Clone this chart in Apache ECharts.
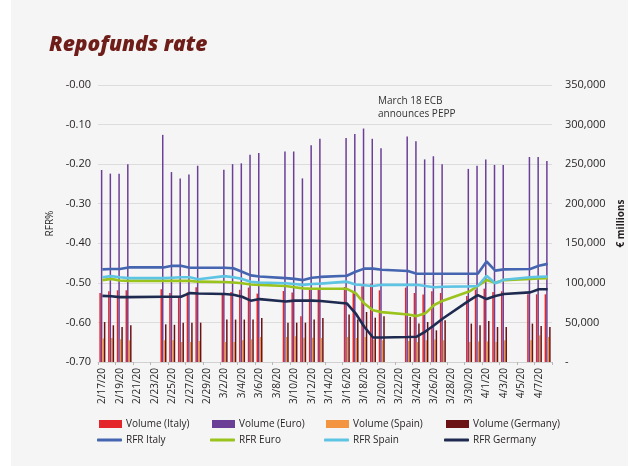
<!DOCTYPE html>
<html>
<head>
<meta charset="utf-8">
<script src="https://cdn.jsdelivr.net/npm/echarts@6/dist/echarts.min.js"></script>
<style>
html,body{margin:0;padding:0;background:#ffffff;}
#chart{width:639px;height:466px;}
</style>
</head>
<body>
<div id="chart"></div>
<script>
// ---- DATA ----
const dates = ["2/17/20","2/18/20","2/19/20","2/20/20","2/21/20","2/22/20","2/23/20","2/24/20","2/25/20","2/26/20","2/27/20","2/28/20","2/29/20","3/1/20","3/2/20","3/3/20","3/4/20","3/5/20","3/6/20","3/7/20","3/8/20","3/9/20","3/10/20","3/11/20","3/12/20","3/13/20","3/14/20","3/15/20","3/16/20","3/17/20","3/18/20","3/19/20","3/20/20","3/21/20","3/22/20","3/23/20","3/24/20","3/25/20","3/26/20","3/27/20","3/28/20","3/29/20","3/30/20","3/31/20","4/1/20","4/2/20","4/3/20","4/4/20","4/5/20","4/6/20","4/7/20","4/8/20"];

// Volumes, EUR millions (null = no trading / no data)
const volItaly = [87200,89300,90600,90600,null,null,null,91900,87200,82000,88000,94600,null,null,85500,88400,91400,94000,86400,null,null,89700,87700,57700,91400,91000,null,null,94800,88400,95600,99000,90600,null,null,94000,87200,85200,89300,87200,null,null,83400,91500,92700,88400,89300,null,null,85500,85500,85500];
const volEuro = [242600,238000,238000,250000,null,null,null,287000,240000,232000,237000,248000,null,null,243000,250000,251000,262000,264000,null,null,266000,266000,232000,274000,282000,null,null,283000,288000,295000,282000,270000,null,null,285000,279000,256000,260000,250000,null,null,244000,248000,256000,249000,249000,null,null,259000,259000,254000];
const volSpain = [29600,30300,28700,27400,null,null,null,27400,27400,25300,25300,26500,null,null,25300,25300,27400,28700,31600,null,null,31600,32500,30700,30700,30300,null,null,31600,30300,31600,28300,27400,null,null,26500,25300,27400,28300,27400,null,null,25300,26000,26000,25300,27400,null,null,27400,33700,31600];
const volGermany = [50500,46400,44200,46400,null,null,null,47600,47000,49700,49700,49700,null,null,53600,53600,53600,53600,55600,null,null,49700,49700,49700,53600,55600,null,null,59900,53600,63200,56000,57700,null,null,56900,48500,50500,40000,52700,null,null,48500,46400,51800,44200,44200,null,null,48500,45500,44200];

// RFR, %
const rfrItaly = [-0.466,-0.465,-0.465,-0.461,null,null,null,-0.461,-0.457,-0.457,-0.462,-0.462,null,null,-0.462,-0.463,-0.472,-0.481,-0.484,null,null,-0.488,-0.490,-0.493,-0.487,-0.485,null,null,-0.482,-0.472,-0.464,-0.464,-0.467,null,null,-0.470,-0.477,-0.477,-0.477,-0.477,null,null,-0.477,-0.477,-0.446,-0.469,-0.466,null,null,-0.465,-0.457,-0.452];
const rfrEuro = [-0.493,-0.490,-0.494,-0.495,null,null,null,-0.495,-0.495,-0.495,-0.495,-0.497,null,null,-0.498,-0.499,-0.501,-0.504,-0.505,null,null,-0.508,-0.511,-0.514,-0.515,-0.515,null,null,-0.515,-0.526,-0.552,-0.569,-0.574,null,null,-0.580,-0.584,-0.577,-0.556,-0.545,null,null,-0.522,-0.508,-0.493,-0.500,-0.493,null,null,-0.490,-0.489,-0.488];
const rfrSpain = [-0.486,-0.483,-0.486,-0.488,null,null,null,-0.488,-0.487,-0.486,-0.486,-0.491,null,null,-0.483,-0.486,-0.490,-0.497,-0.499,null,null,-0.501,-0.503,-0.505,-0.503,-0.502,null,null,-0.497,-0.504,-0.506,-0.508,-0.505,null,null,-0.505,-0.505,-0.508,-0.511,-0.510,null,null,-0.509,-0.508,-0.482,-0.501,-0.492,null,null,-0.486,-0.485,-0.484];
const rfrGermany = [-0.533,-0.534,-0.536,-0.536,null,null,null,-0.535,-0.535,-0.535,-0.526,-0.527,null,null,-0.528,-0.530,-0.535,-0.545,-0.541,null,null,-0.547,-0.545,-0.545,-0.545,-0.546,null,null,-0.552,-0.577,-0.611,-0.638,-0.638,null,null,-0.637,-0.636,-0.623,-0.607,-0.590,null,null,-0.545,-0.531,-0.541,-0.533,-0.528,null,null,-0.524,-0.516,-0.516];

const titleText = "Repofunds rate";
const noteLines = ["March 18 ECB", "announces PEPP"];

// ---- CHART ----
const FONT = "'Open Sans', 'DejaVu Sans', sans-serif";
const TXT = '#231f20';
const C = {
  vItaly:'#e4262b', vEuro:'#6b3f96', vSpain:'#f39441', vGermany:'#6a1214',
  rItaly:'#4565b0', rEuro:'#9ac31c', rSpain:'#5ec4e4', rGermany:'#1f2a50'
};

function barSeries(name, data, color){
  return {name, type:'bar', xAxisIndex:0, yAxisIndex:1, data,
    barWidth:1.5, barGap:'0%', itemStyle:{color}, z:2, animation:false};
}
function lineSeries(name, data, color){
  return {name, type:'line', xAxisIndex:0, yAxisIndex:0, data,
    connectNulls:true, symbol:'none', smooth:false,
    lineStyle:{color, width:2.6}, itemStyle:{color}, z:5, animation:false};
}
function legend(name, left, top, isLine){
  return {data:[name], left, top, padding:0, itemGap:0,
    icon: isLine ? 'roundRect' : 'rect',
    itemWidth: isLine ? 25 : 23, itemHeight: isLine ? 3 : 8,
    textStyle:{fontFamily:FONT, fontSize:10, color:TXT, padding:[0,0,0,-1]},
    selectedMode:false};
}

const chart = echarts.init(document.getElementById('chart'), null, {renderer:'canvas'});
chart.setOption({
  backgroundColor:'#ffffff',
  animation:false,
  graphic:[
    {type:'rect', shape:{x:11, y:0, width:617, height:466}, style:{fill:'#f5f5f5'}, z:-10, silent:true},
    {type:'text', left:49, top:35, style:{text:titleText, fill:'#6e1d18', font:"italic 800 21px 'Open Sans', Lato, sans-serif"}, z:10},
    {type:'text', left:378, top:95, style:{text:noteLines.join('\n'), fill:'#333333', font:"10px 'Open Sans', sans-serif", lineHeight:12.5}, z:10}
  ],
  legend:[
    legend('Volume (Italy)', 99, 419, false),
    legend('Volume (Euro)', 212, 419, false),
    legend('Volume (Spain)', 326, 419, false),
    legend('Volume (Germany)', 446, 419, false),
    legend('RFR Italy', 97, 435, true),
    legend('RFR Euro', 210, 435, true),
    legend('RFR Spain', 324, 435, true),
    legend('RFR Germany', 444, 435, true)
  ],
  grid:{left:98, right:87, top:85, bottom:104},
  xAxis:[
    {type:'category', data:dates, boundaryGap:true, position:'bottom',
      axisLine:{show:false}, axisTick:{show:false},
      axisLabel:{interval:1, rotate:90, fontFamily:FONT, fontSize:10, color:TXT, margin:6}},
    {type:'category', data:dates, boundaryGap:true, position:'top',
      axisLine:{show:true, lineStyle:{color:'#d0d0d0'}},
      axisTick:{show:true, inside:true, length:3, interval:1, lineStyle:{color:'#b8b8b8'}},
      axisLabel:{show:false}}
  ],
  yAxis:[
    {type:'value', min:-0.7, max:0, interval:0.1, position:'left',
      name:'RFR%', nameLocation:'middle', nameGap:40, nameRotate:90,
      nameTextStyle:{fontFamily:FONT, fontSize:10, color:TXT},
      axisLine:{show:false}, axisTick:{show:false},
      splitLine:{lineStyle:{color:'#dcdcdc', width:1}},
      axisLabel:{fontFamily:FONT, fontSize:11, color:TXT, margin:7,
        formatter:v => '-' + Math.abs(v).toFixed(2)}},
    {type:'value', min:0, max:350000, interval:50000, position:'right',
      name:'€ millions', nameLocation:'middle', nameGap:60, nameRotate:90,
      nameTextStyle:{fontFamily:FONT, fontSize:10, color:TXT, fontWeight:'bold'},
      axisLine:{show:false}, axisTick:{show:false}, splitLine:{show:false},
      axisLabel:{fontFamily:FONT, fontSize:11, color:TXT, margin:13,
        formatter:v => v === 0 ? '-' : v.toLocaleString('en-US')}}
  ],
  series:[
    barSeries('Volume (Italy)', volItaly, C.vItaly),
    barSeries('Volume (Euro)', volEuro, C.vEuro),
    barSeries('Volume (Spain)', volSpain, C.vSpain),
    barSeries('Volume (Germany)', volGermany, C.vGermany),
    lineSeries('RFR Italy', rfrItaly, C.rItaly),
    lineSeries('RFR Euro', rfrEuro, C.rEuro),
    lineSeries('RFR Spain', rfrSpain, C.rSpain),
    lineSeries('RFR Germany', rfrGermany, C.rGermany)
  ]
});
</script>
</body>
</html>
